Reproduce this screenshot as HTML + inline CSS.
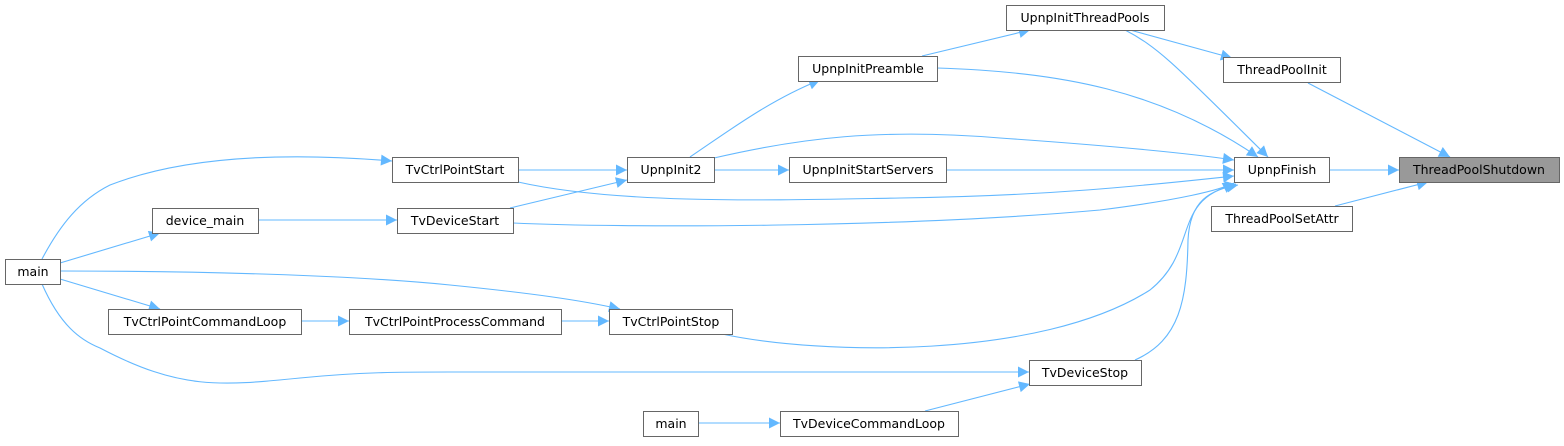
<!DOCTYPE html>
<html><head><meta charset="utf-8"><style>
html,body{margin:0;padding:0;background:#fff;}
svg text{font-family:"DejaVu Sans","Liberation Sans",sans-serif;font-size:12.5px;fill:#000;}
</style></head><body>
<svg width="1564" height="441" viewBox="0 0 1564 441" xmlns="http://www.w3.org/2000/svg">
<defs>
<marker id="a" viewBox="0 0 10 10" refX="10" refY="5" markerWidth="13" markerHeight="11" markerUnits="userSpaceOnUse" orient="auto">
<path d="M0,0 L10,5 L0,10 z" fill="#63b8ff"/></marker>
</defs>
<g fill="none" stroke="#63b8ff" stroke-width="1.1" marker-end="url(#a)">
<path d="M1329,170 L1399,170"/>
<path d="M1308,83 L1450,157"/>
<path d="M1335,206 L1428,182"/>
<path d="M1130,30 L1232,58"/>
<path d="M1125,30 C1160,48 1180,70 1268,157"/>
<path d="M922,56 L1030,30"/>
<path d="M937,68 C1060,72 1160,90 1258,157"/>
<path d="M690,157 C730,130 770,100 820,80"/>
<path d="M714,158 C800,138 880,128 1000,138 C1100,145 1180,152 1234,160"/>
<path d="M714,170 L789,170"/>
<path d="M946,170 L1234,170"/>
<path d="M518,182 C620,205 780,200 900,198 C1050,196 1150,185 1234,176"/>
<path d="M513,223 C620,228 900,228 1100,210 C1180,200 1220,190 1234,183"/>
<path d="M518,170 L627,170"/>
<path d="M510,208 L627,180"/>
<path d="M722,334 C820,355 1040,360 1150,290 C1200,250 1170,200 1236,184"/>
<path d="M1135,360 C1180,340 1187,300 1188,240 C1190,200 1210,190 1238,185"/>
<path d="M42,259 C60,225 80,200 110,185 C200,150 320,155 392,161"/>
<path d="M60,263 L160,233"/>
<path d="M258,220 L397,220"/>
<path d="M60,271 C200,271 350,275 450,285 C530,293 580,300 620,309"/>
<path d="M60,279 L160,309"/>
<path d="M301,321 L349,321"/>
<path d="M561,321 L609,321"/>
<path d="M42,284 C60,325 80,340 100,348 C180,390 220,386 300,378 C360,372 400,372 450,372 L1029,372"/>
<path d="M698,423 L780,423"/>
<path d="M925,411 L1030,384"/>
</g>
<g stroke="#666" stroke-width="1" fill="#fff">
<rect x="5.5" y="259.5" width="55" height="25"/>
<rect x="392.5" y="157.5" width="126" height="25"/>
<rect x="152.5" y="208.5" width="106" height="25"/>
<rect x="397.5" y="208.5" width="116" height="25"/>
<rect x="627.5" y="157.5" width="87" height="25"/>
<rect x="108.5" y="309.5" width="193" height="25"/>
<rect x="349.5" y="309.5" width="212" height="25"/>
<rect x="609.5" y="309.5" width="123" height="25"/>
<rect x="643.5" y="411.5" width="55" height="25"/>
<rect x="1006.5" y="5.5" width="158" height="25"/>
<rect x="798.5" y="56.5" width="139" height="25"/>
<rect x="1223.5" y="57.5" width="117" height="25"/>
<rect x="789.5" y="157.5" width="157" height="25"/>
<rect x="1234.5" y="157.5" width="95" height="25"/>
<rect x="1399.5" y="157.5" width="160" height="25" fill="#999"/>
<rect x="1211.5" y="206.5" width="141" height="25"/>
<rect x="1029.5" y="360.5" width="112" height="25"/>
<rect x="780.5" y="411.5" width="178" height="25"/>
</g>
<g text-anchor="middle">
<text x="33" y="276">main</text>
<text x="455" y="174">TvCtrlPointStart</text>
<text x="205" y="225">device_main</text>
<text x="455" y="225">TvDeviceStart</text>
<text x="671" y="174">UpnpInit2</text>
<text x="205" y="326">TvCtrlPointCommandLoop</text>
<text x="455" y="326">TvCtrlPointProcessCommand</text>
<text x="671" y="326">TvCtrlPointStop</text>
<text x="671" y="428">main</text>
<text x="1085" y="22">UpnpInitThreadPools</text>
<text x="868" y="73">UpnpInitPreamble</text>
<text x="1282" y="74">ThreadPoolInit</text>
<text x="868" y="174">UpnpInitStartServers</text>
<text x="1282" y="174">UpnpFinish</text>
<text x="1479" y="174">ThreadPoolShutdown</text>
<text x="1282" y="223">ThreadPoolSetAttr</text>
<text x="1085" y="377">TvDeviceStop</text>
<text x="869" y="428">TvDeviceCommandLoop</text>
</g>
</svg>
</body></html>
